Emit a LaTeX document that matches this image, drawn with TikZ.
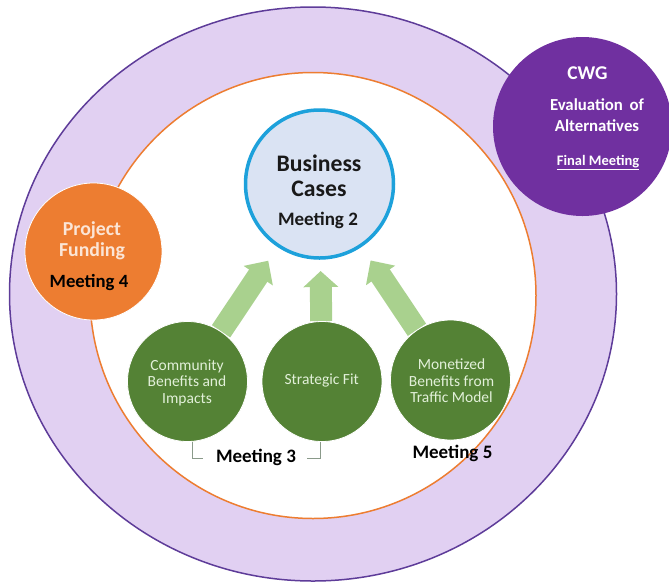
\documentclass[tikz,border=0pt]{standalone}
\usepackage{fontspec}
\setmainfont{Carlito}
\usetikzlibrary{arrows.meta}
\definecolor{lav}{HTML}{E1D0F2}
\definecolor{lavline}{HTML}{5E3C99}
\definecolor{orangeA}{HTML}{ED7D31}
\definecolor{bcfill}{HTML}{DAE3F3}
\definecolor{bcline}{HTML}{1DA1DB}
\definecolor{greenA}{HTML}{548235}
\definecolor{greenArrow}{HTML}{A9D18E}
\definecolor{purpleA}{HTML}{7030A0}
\definecolor{pftext}{HTML}{FBE5D6}
\definecolor{gtext}{HTML}{E2F0D9}
\definecolor{brk}{HTML}{8A9A8A}
\pgfdeclarelayer{bg}
\pgfdeclarelayer{arr}
\pgfsetlayers{bg,arr,main}
\begin{document}
\begin{tikzpicture}[x=1pt,y=-1pt,
  disc/.style={circle,inner sep=0pt,minimum size=#1},
  greendisc/.style={disc=120pt,fill=greenA,draw=white,line width=0.8pt},
  bigarrow/.style={greenArrow,line width=22pt,-{Triangle[width=34pt,length=18pt]}},
  bracketline/.style={brk,line width=0.9pt},
  txt/.style={align=center,inner sep=0pt,anchor=base},
  gtxt/.style={txt,text=gtext,font=\fontsize{15.5}{16.5}\selectfont},
  meet/.style={txt,text=black,font=\fontsize{19}{20}\selectfont\bfseries}
]
\useasboundingbox (0,0) rectangle (669,582);
\begin{pgfonlayer}{bg}
\draw[draw=lavline,line width=1.5pt,fill=lav] (313,294) ellipse [x radius=303.5,y radius=287];
\draw[draw=orangeA,line width=1.5pt,fill=white] (313,295.5) circle [radius=223];
\end{pgfonlayer}

\node[disc=148pt,fill=bcfill,draw=bcline,line width=3.5pt] (bc) at (319.5,184) {};
\node[disc=179pt,fill=purpleA] (cwg) at (582.5,126.5) {};
\node[disc=137pt,fill=orangeA,draw=white,line width=0.8pt] (pf) at (93.5,251.5) {};
\node[greendisc] (comm) at (187.5,381.5) {};
\node[greendisc] (sf) at (322,381.5) {};
\node[greendisc] (mon) at (450.5,380) {};

\begin{pgfonlayer}{arr}
\draw[bigarrow,shorten >=16.5pt] (comm) -- (bc);
\draw[bigarrow,shorten >=11.3pt,-{Triangle[width=34pt,length=16pt]}] (sf) -- (bc);
\draw[bigarrow,shorten >=16.2pt] (mon) -- (bc);
\end{pgfonlayer}

% texts (anchor=base is the baseline of the last line)
\node[txt,text=black!90,font=\fontsize{23.7}{25}\selectfont\bfseries] (bctext) at (319,196.7) {Business\\Cases};
\node[txt,text=black!90,font=\fontsize{19}{20}\selectfont\bfseries] (bcmeet) at (318,225) {Meeting 2};

\node[txt,text=pftext,font=\fontsize{19.8}{21}\selectfont\bfseries] (pftext) at (92,256) {Project\\Funding};
\node[txt,font=\fontsize{18.7}{20}\selectfont\bfseries] (pfmeet) at (89,287) {Meeting 4};

\node[txt,text=white,font=\fontsize{19.5}{20}\selectfont\bfseries] (cwgtext) at (587.5,79) {CWG};
\node[txt,text=white,font=\fontsize{16.8}{21}\selectfont\bfseries] (evaltext) at (597,131) {Evaluation\hspace{0.4em}of\\Alternatives};
\node[txt,text=white,font=\fontsize{14.5}{18}\selectfont\bfseries] (finaltext) at (598,165) {\underline{Final Meeting}};

\node[gtxt] (commtext) at (187,403) {Community\\Benefits and\\Impacts};
\node[gtxt] (sftext) at (321.7,384) {Strategic Fit};
\node[gtxt] (montext) at (451.5,402.5) {Monetized\\Benefits from\\Traffic Model};

\node[meet] (m3) at (256,462.5) {Meeting 3};
\node[meet] (m5) at (452.5,458) {Meeting 5};

\coordinate (m3l) at (203,458.5);
\coordinate (m3r) at (307,458.5);
\draw[bracketline] ([xshift=5pt]comm.south) |- (m3l);
\draw[bracketline] ([xshift=-2pt]sf.south) |- (m3r);
\end{tikzpicture}
\end{document}
